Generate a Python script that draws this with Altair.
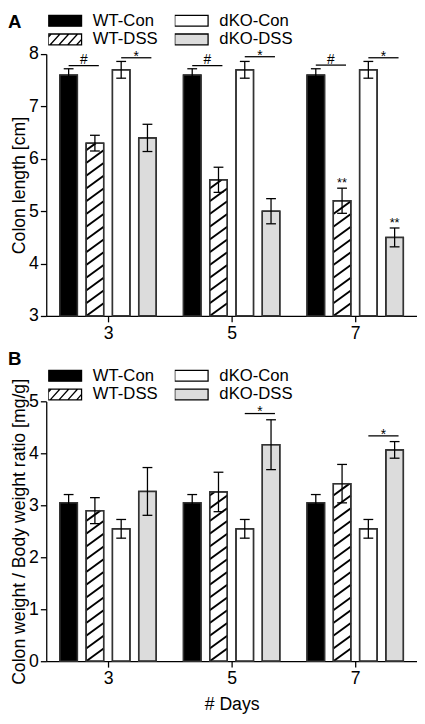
import altair as alt
import pandas as pd

FONT = "Liberation Sans"

# ---------------- data ----------------
DAYS = ["3", "5", "7"]
GROUPS = ["WT-Con", "WT-DSS", "dKO-Con", "dKO-DSS"]
GROUP_FILL = ["#000000", "#ffffff", "#ffffff", "#dcdcdc"]

LENGTH_MEAN = {
    "WT-Con": [7.6, 7.6, 7.6],
    "WT-DSS": [6.3, 5.6, 5.2],
    "dKO-Con": [7.7, 7.7, 7.7],
    "dKO-DSS": [6.4, 5.0, 4.5],
}
LENGTH_ERR = {
    "WT-Con": [0.12, 0.12, 0.12],
    "WT-DSS": [0.15, 0.24, 0.24],
    "dKO-Con": [0.16, 0.16, 0.16],
    "dKO-DSS": [0.26, 0.24, 0.18],
}
RATIO_MEAN = {
    "WT-Con": [3.05, 3.05, 3.05],
    "WT-DSS": [2.90, 3.26, 3.42],
    "dKO-Con": [2.55, 2.55, 2.55],
    "dKO-DSS": [3.27, 4.17, 4.07],
}
RATIO_ERR = {
    "WT-Con": [0.16, 0.16, 0.16],
    "WT-DSS": [0.25, 0.38, 0.37],
    "dKO-Con": [0.18, 0.18, 0.18],
    "dKO-DSS": [0.46, 0.48, 0.16],
}
LENGTH_BRACKETS = [
    ("3", "WT-Con", "WT-DSS", 7.78, "#"),
    ("3", "dKO-Con", "dKO-DSS", 7.93, "*"),
    ("5", "WT-Con", "WT-DSS", 7.78, "#"),
    ("5", "dKO-Con", "dKO-DSS", 7.95, "*"),
    ("7", "WT-Con", "WT-DSS", 7.79, "#"),
    ("7", "dKO-Con", "dKO-DSS", 7.93, "*"),
]
LENGTH_MARKS = [("7", "WT-DSS", "**"), ("7", "dKO-DSS", "**")]
RATIO_BRACKETS = [
    ("5", "dKO-Con", "dKO-DSS", 4.77, "*"),
    ("7", "dKO-Con", "dKO-DSS", 4.34, "*"),
]
RATIO_MARKS = []

# ---------------- layout ----------------
PAD_L = 39
W, H = 378, 716
XPU = W / 3.0
STEP = 27 / 127
HALF = 9 / 127
CAP = 5 / XPU
A_RANGE = [307, 40]
B_RANGE = [659, 394.3]
HATCH_PX = 13.0

RECT_PATH = "M-2,-0.647H2V0.647H-2Z"
HATCH_PATH = (RECT_PATH +
              "M-2,-0.259L-1.647,-0.647"
              "M-1.765,0.647L-0.588,-0.647"
              "M-0.706,0.647L0.471,-0.647"
              "M0.353,0.647L1.529,-0.647"
              "M1.412,0.647L2,0")


def xpos(day, grp):
    return DAYS.index(day) + 0.5 + (GROUPS.index(grp) - 1.5) * STEP


def bar_frame(means, errs, base):
    rows = []
    for g in GROUPS:
        for i, d in enumerate(DAYS):
            m, e = means[g][i], errs[g][i]
            xc = xpos(d, g)
            rows.append(dict(day=d, group=g, mean=m, base=base, lo=m - e, hi=m + e,
                             xc=xc, xl=xc - HALF, xr=xc + HALF,
                             cl=xc - CAP, cr=xc + CAP))
    return pd.DataFrame(rows)


def hatch_frame(df, base, ppu):
    sp = HATCH_PX / ppu
    segs = []
    for _, r in df[df.group == "WT-DSS"].iterrows():
        top = r["mean"]
        k = -1
        while base + k * sp < top:
            yl = base + k * sp
            t0 = max(0.0, (base - yl) / sp)
            t1 = min(1.0, (top - yl) / sp)
            if t1 > t0:
                w = r.xr - r.xl
                segs.append(dict(x0=r.xl + t0 * w, y0=yl + t0 * sp,
                                 x1=r.xl + t1 * w, y1=yl + t1 * sp))
            k += 1
    return pd.DataFrame(segs)


def panel(means, errs, ydom, yrange, yvals, ytitle, brackets, marks,
          legend_y, letter, letter_y, xtitle):
    base = ydom[0]
    ppu = (yrange[0] - yrange[1]) / (ydom[1] - ydom[0])
    df = bar_frame(means, errs, base)
    hdf = hatch_frame(df, base, ppu)
    cdf = pd.concat([df.assign(cy=df.lo), df.assign(cy=df.hi)])
    bdf = pd.DataFrame([dict(x0=xpos(d, g1), x1=xpos(d, g2) + 4 / XPU, y=y, sym=s)
                        for d, g1, g2, y, s in brackets])
    bdf["xm"] = (bdf.x0 + bdf.x1) / 2

    xs = alt.Scale(domain=[0, 3], nice=False, zero=False)
    ys = alt.Scale(domain=ydom, range=yrange, nice=False, zero=False)
    xaxis_kw = dict(values=[i + 0.5 for i in range(len(DAYS))],
                    labelExpr="[" + ",".join("'%s'" % d for d in DAYS) + "][floor(datum.value)]",
                    orient="bottom", offset=-(H - yrange[0]), tickSize=6,
                    labelPadding=3, title=xtitle)
    if xtitle:
        xaxis_kw["titlePadding"] = 8
    xaxis = alt.Axis(**xaxis_kw)
    yaxis = alt.Axis(values=yvals, orient="left", tickSize=6, labelPadding=2,
                     title=ytitle, titlePadding=0.3)

    def X(f):
        return alt.X(f + ":Q", scale=xs, axis=xaxis)

    def Y(f):
        return alt.Y(f + ":Q", scale=ys, axis=yaxis)

    shape_expr = "datum.value === 'WT-DSS' ? '%s' : '%s'" % (HATCH_PATH, RECT_PATH)
    legend = alt.Legend(
        title=None, orient="none", legendX=2, legendY=legend_y, columns=2,
        symbolSize=289, symbolOffset=7.5, symbolType=alt.ExprRef(shape_expr),
        symbolStrokeColor="black", symbolStrokeWidth=1.3,
        labelOffset=19, labelFontSize=17, labelFont=FONT, labelColor="black",
        columnPadding=17, rowPadding=1, clipHeight=17, padding=0,
    )

    bars = alt.Chart(df).mark_bar(stroke="black", strokeWidth=1.3).encode(
        x=X("xl"), x2="xr", y=Y("mean"), y2="base",
        fill=alt.Fill("group:N", scale=alt.Scale(domain=GROUPS, range=GROUP_FILL),
                      legend=legend),
    )
    hatch = alt.Chart(hdf).mark_rule(color="black", strokeWidth=2).encode(
        x=X("x0"), x2="x1", y=Y("y0"), y2="y1")
    outline = alt.Chart(df).mark_bar(fillOpacity=0, stroke="#333333", strokeWidth=1.5).encode(
        x=X("xl"), x2="xr", y=Y("mean"), y2="base")
    err = alt.Chart(df).mark_rule(color="black", strokeWidth=1.3).encode(
        x=X("xc"), y=Y("lo"), y2="hi")
    caps = alt.Chart(cdf).mark_rule(color="black", strokeWidth=1.3).encode(
        x=X("cl"), x2="cr", y=Y("cy"))
    brk = alt.Chart(bdf).mark_rule(color="black", strokeWidth=1.3).encode(
        x=X("x0"), x2="x1", y=Y("y"))
    hash_t = alt.Chart(bdf[bdf.sym == "#"]).mark_text(
        fontSize=14, font=FONT, color="black", baseline="alphabetic", dy=-1.5).encode(
        x=X("xm"), y=Y("y"), text="sym:N")
    star_t = alt.Chart(bdf[bdf.sym == "*"]).mark_text(
        fontSize=14, font=FONT, color="black", baseline="alphabetic", dy=3).encode(
        x=X("xm"), y=Y("y"), text="sym:N")
    layers = [bars, hatch, outline, err, caps, brk, hash_t, star_t]
    if marks:
        mdf = pd.DataFrame([dict(x=xpos(d, g),
                                 y=means[g][DAYS.index(d)] + errs[g][DAYS.index(d)],
                                 t=t) for d, g, t in marks])
        layers.append(alt.Chart(mdf).mark_text(
            fontSize=13, font=FONT, color="black", baseline="alphabetic", dy=-1.5).encode(
            x=X("x"), y=Y("y"), text="t:N"))
    lab = alt.Chart(pd.DataFrame({"t": [letter]})).mark_text(
        align="left", baseline="alphabetic", fontSize=19, fontWeight="bold",
        font=FONT, color="black").encode(text="t:N", x=alt.value(-PAD_L), y=alt.value(letter_y))
    layers.append(lab)
    return alt.layer(*layers)


pa = panel(LENGTH_MEAN, LENGTH_ERR, [3, 8], A_RANGE, [3, 4, 5, 6, 7, 8],
           "Colon length [cm]", LENGTH_BRACKETS, LENGTH_MARKS, -2.5, "A", 13, None)
pb = panel(RATIO_MEAN, RATIO_ERR, [0, 5], B_RANGE, [0, 1, 2, 3, 4, 5],
           "Colon weight / Body weight ratio [mg/g]", RATIO_BRACKETS, RATIO_MARKS,
           359.5, "B", 357, "# Days")

chart = alt.layer(pa, pb).resolve_scale(
    x="independent", y="independent", fill="independent"
).resolve_axis(x="independent", y="independent").resolve_legend(
    fill="independent"
).properties(
    width=W, height=H,
    padding={"left": PAD_L, "right": 0, "top": 0, "bottom": 0},
    autosize=alt.AutoSizeParams(type="none"),
).configure_view(stroke=None).configure_axis(
    domainColor="black", domainWidth=1.3, tickColor="black", tickWidth=1.3,
    labelColor="black", titleColor="black", labelFont=FONT, titleFont=FONT,
    labelFontSize=18, titleFontSize=18, titleFontWeight="normal", grid=False,
).configure_text(font=FONT)

chart.save("out.html", embed_options={"renderer": "svg", "actions": False})
